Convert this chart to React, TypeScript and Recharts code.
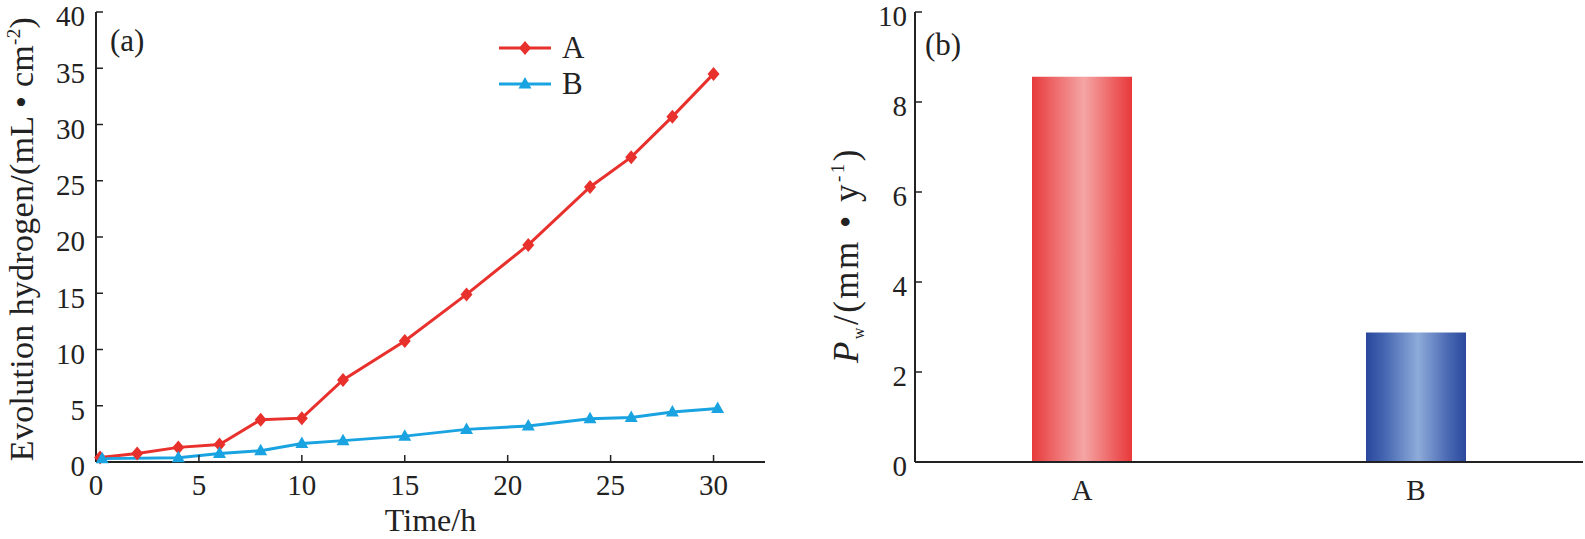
import React from 'react';
import {
  LineChart, Line, XAxis, YAxis, Legend, BarChart, Bar, Cell,
} from 'recharts';

// ---------- data ----------
const timeA = [0.2, 2, 4, 6, 8, 10, 12, 15, 18, 21, 24, 26, 28, 30];
const hydrogenA = [0.4, 0.75, 1.3, 1.55, 3.75, 3.9, 7.3, 10.75, 14.9, 19.3, 24.45, 27.1, 30.7, 34.5];
const timeB = [0.3, 4, 6, 8, 10, 12, 15, 18, 21, 24, 26, 28, 30.2];
const hydrogenB = [0.3, 0.38, 0.75, 1.0, 1.65, 1.9, 2.3, 2.9, 3.2, 3.85, 3.95, 4.45, 4.75];
const xTicks = [0, 5, 10, 15, 20, 25, 30];
const yTicksA = [0, 5, 10, 15, 20, 25, 30, 35, 40];

const barCategories = ['A', 'B'];
const barValues = [8.56, 2.88];
const yTicksB = [0, 2, 4, 6, 8, 10];

const seriesA = timeA.map((x, i) => ({ x, y: hydrogenA[i] }));
const seriesB = timeB.map((x, i) => ({ x, y: hydrogenB[i] }));
const barData = barCategories.map((name, i) => ({ name, value: barValues[i] }));

// ---------- styles ----------
const FONT = '"Liberation Serif", "Times New Roman", Times, serif';
const INK = '#222';
const RED = '#e8302c';
const BLUE = '#19a3e1';
const TICK_FS = 29;
const tickStyle = { fill: INK, fontSize: TICK_FS, fontFamily: FONT };
const axisLine = { stroke: INK, strokeWidth: 2 };
const tickLineStyle = { stroke: INK, strokeWidth: 1.5 };

const YTick = (props: any) => {
  const { x, y, payload } = props;
  return (
    <text x={x} y={y + 4} dy="0.355em" textAnchor="end" fontFamily={FONT} fontSize={TICK_FS} fill={INK}>
      {payload.value}
    </text>
  );
};

const diamondPath = (cx: number, cy: number) =>
  `M${cx},${cy - 7} L${cx + 6},${cy} L${cx},${cy + 7} L${cx - 6},${cy} Z`;
const trianglePath = (cx: number, cy: number) =>
  `M${cx},${cy - 7} L${cx + 6.5},${cy + 4.5} L${cx - 6.5},${cy + 4.5} Z`;

const DiamondDot = (props: any) => {
  const { cx, cy, index } = props;
  if (cx == null || cy == null) return <g key={'da' + index} />;
  return <path key={'da' + index} d={diamondPath(cx, cy)} fill={RED} />;
};
const TriangleDot = (props: any) => {
  const { cx, cy, index } = props;
  if (cx == null || cy == null) return <g key={'tb' + index} />;
  return <path key={'tb' + index} d={trianglePath(cx, cy)} fill={BLUE} />;
};

const markerFor: Record<string, (cx: number, cy: number) => string> = {
  A: diamondPath,
  B: trianglePath,
};

const renderLegend = (props: any) => {
  const { payload } = props;
  return (
    <div style={{ display: 'flex', flexDirection: 'column' }}>
      {(payload || []).map((entry: any) => (
        <div key={entry.value} style={{ display: 'flex', alignItems: 'center', height: 36 }}>
          <svg width={52} height={20} style={{ display: 'block' }}>
            <line x1={0} y1={10} x2={52} y2={10} stroke={entry.color} strokeWidth={3} />
            <path d={markerFor[entry.value](26, 10)} fill={entry.color} />
          </svg>
          <span style={{ fontFamily: FONT, fontSize: 31, color: INK, marginLeft: 11, lineHeight: '36px' }}>
            {entry.value}
          </span>
        </div>
      ))}
    </div>
  );
};

const YLabelLeft = (props: any) => {
  const vb = props.viewBox || { x: 0, y: 0, width: 96, height: 450 };
  const cx = vb.x + 33;
  const cy = vb.y + vb.height / 2 + 2;
  return (
    <text
      x={cx}
      y={cy}
      transform={`rotate(-90 ${cx} ${cy})`}
      textAnchor="middle"
      fontFamily={FONT}
      fontSize={34}
      letterSpacing={0.3}
      fill={INK}
    >
      Evolution hydrogen/(mL • cm
      <tspan dy={-13} fontSize={19}>-2</tspan>
      <tspan dy={13}>)</tspan>
    </text>
  );
};

const YLabelRight = (props: any) => {
  const vb = props.viewBox || { x: 0, y: 0, width: 125, height: 450 };
  const cx = vb.x + 68;
  const cy = vb.y + vb.height / 2 + 18;
  return (
    <text
      x={cx}
      y={cy}
      transform={`rotate(-90 ${cx} ${cy})`}
      textAnchor="middle"
      fontFamily={FONT}
      fontSize={35}
      letterSpacing={2.5}
      fill={INK}
    >
      <tspan fontStyle="italic">P</tspan>
      <tspan dy={6} fontSize={16}>w</tspan>
      <tspan dy={-6}>/(mm • y</tspan>
      <tspan dy={-14} fontSize={19}>-1</tspan>
      <tspan dy={14}>)</tspan>
    </text>
  );
};

const XLabelLeft = (props: any) => {
  const vb = props.viewBox || { x: 96, y: 462, width: 669, height: 77 };
  const cx = vb.x + vb.width / 2;
  return (
    <text x={cx} y={vb.y + 69} textAnchor="middle" fontFamily={FONT} fontSize={32} fill={INK}>
      Time/h
    </text>
  );
};

const panelLabel: React.CSSProperties = {
  position: 'absolute',
  fontFamily: FONT,
  fontSize: 31,
  color: INK,
  lineHeight: '34px',
};

export default function App() {
  return (
    <div style={{ position: 'absolute', left: 0, top: 0, width: 1585, height: 539, background: '#fff', overflow: 'hidden' }}>
      {/* Panel (a) */}
      <div style={{ position: 'absolute', left: 0, top: 0 }}>
        <LineChart width={780} height={539} margin={{ top: 12, right: 15, bottom: 0, left: 0 }}>
          <XAxis
            dataKey="x"
            type="number"
            domain={[0, 32.5]}
            ticks={xTicks}
            interval={0}
            height={77}
            tick={tickStyle}
            tickSize={-7}
            tickMargin={19}
            tickLine={tickLineStyle}
            axisLine={axisLine}
            label={XLabelLeft}
          />
          <XAxis
            xAxisId="top"
            orientation="top"
            type="number"
            domain={[0, 32.5]}
            height={0}
            tick={false}
            tickLine={false}
            axisLine={axisLine}
          />
          <YAxis
            type="number"
            domain={[0, 40]}
            ticks={yTicksA}
            interval={0}
            width={96}
            tick={YTick}
            tickSize={-7}
            tickMargin={18}
            tickLine={tickLineStyle}
            axisLine={axisLine}
            label={YLabelLeft}
          />
          <YAxis
            yAxisId="right"
            orientation="right"
            type="number"
            domain={[0, 40]}
            width={0}
            tick={false}
            tickLine={false}
            axisLine={axisLine}
          />
          <Legend
            layout="vertical"
            align="center"
            verticalAlign="middle"
            content={renderLegend}
            wrapperStyle={{ position: 'absolute', left: 499, top: 30, width: 'auto', height: 'auto' }}
          />
          <Line
            data={seriesA}
            dataKey="y"
            name="A"
            type="linear"
            stroke={RED}
            strokeWidth={3}
            dot={DiamondDot}
            activeDot={false}
            isAnimationActive={false}
          />
          <Line
            data={seriesB}
            dataKey="y"
            name="B"
            type="linear"
            stroke={BLUE}
            strokeWidth={3}
            dot={TriangleDot}
            activeDot={false}
            isAnimationActive={false}
          />
        </LineChart>
        <div style={{ ...panelLabel, left: 110, top: 24 }}>(a)</div>
      </div>

      {/* Panel (b) */}
      <div style={{ position: 'absolute', left: 790, top: 0 }}>
        <BarChart width={795} height={539} data={barData} margin={{ top: 12, right: 2, bottom: 0, left: 0 }} barCategoryGap={0}>
          <defs>
            <linearGradient id="gradA" x1="0" y1="0" x2="1" y2="0">
              <stop offset="0%" stopColor="#e73a3b" />
              <stop offset="18%" stopColor="#ed6061" />
              <stop offset="52%" stopColor="#f5a5a5" />
              <stop offset="82%" stopColor="#ee5f60" />
              <stop offset="100%" stopColor="#e8393a" />
            </linearGradient>
            <linearGradient id="gradB" x1="0" y1="0" x2="1" y2="0">
              <stop offset="0%" stopColor="#2a479c" />
              <stop offset="18%" stopColor="#4465b1" />
              <stop offset="52%" stopColor="#8eabd9" />
              <stop offset="82%" stopColor="#4a69b3" />
              <stop offset="100%" stopColor="#2b489c" />
            </linearGradient>
          </defs>
          <XAxis
            dataKey="name"
            type="category"
            height={77}
            tick={tickStyle}
            tickSize={0}
            tickMargin={17}
            tickLine={false}
            axisLine={axisLine}
          />
          <XAxis
            xAxisId="top"
            orientation="top"
            type="number"
            domain={[0, 1]}
            height={0}
            tick={false}
            tickLine={false}
            axisLine={axisLine}
          />
          <YAxis
            type="number"
            domain={[0, 10]}
            ticks={yTicksB}
            interval={0}
            width={125}
            tick={YTick}
            tickSize={-7}
            tickMargin={15}
            tickLine={tickLineStyle}
            axisLine={axisLine}
            label={YLabelRight}
          />
          <YAxis
            yAxisId="right"
            orientation="right"
            type="number"
            domain={[0, 10]}
            width={0}
            tick={false}
            tickLine={false}
            axisLine={axisLine}
          />
          <Bar dataKey="value" barSize={100} isAnimationActive={false}>
            {barData.map((d) => (
              <Cell key={d.name} fill={d.name === 'A' ? 'url(#gradA)' : 'url(#gradB)'} />
            ))}
          </Bar>
        </BarChart>
        <div style={{ ...panelLabel, left: 135, top: 28 }}>(b)</div>
      </div>
    </div>
  );
}
